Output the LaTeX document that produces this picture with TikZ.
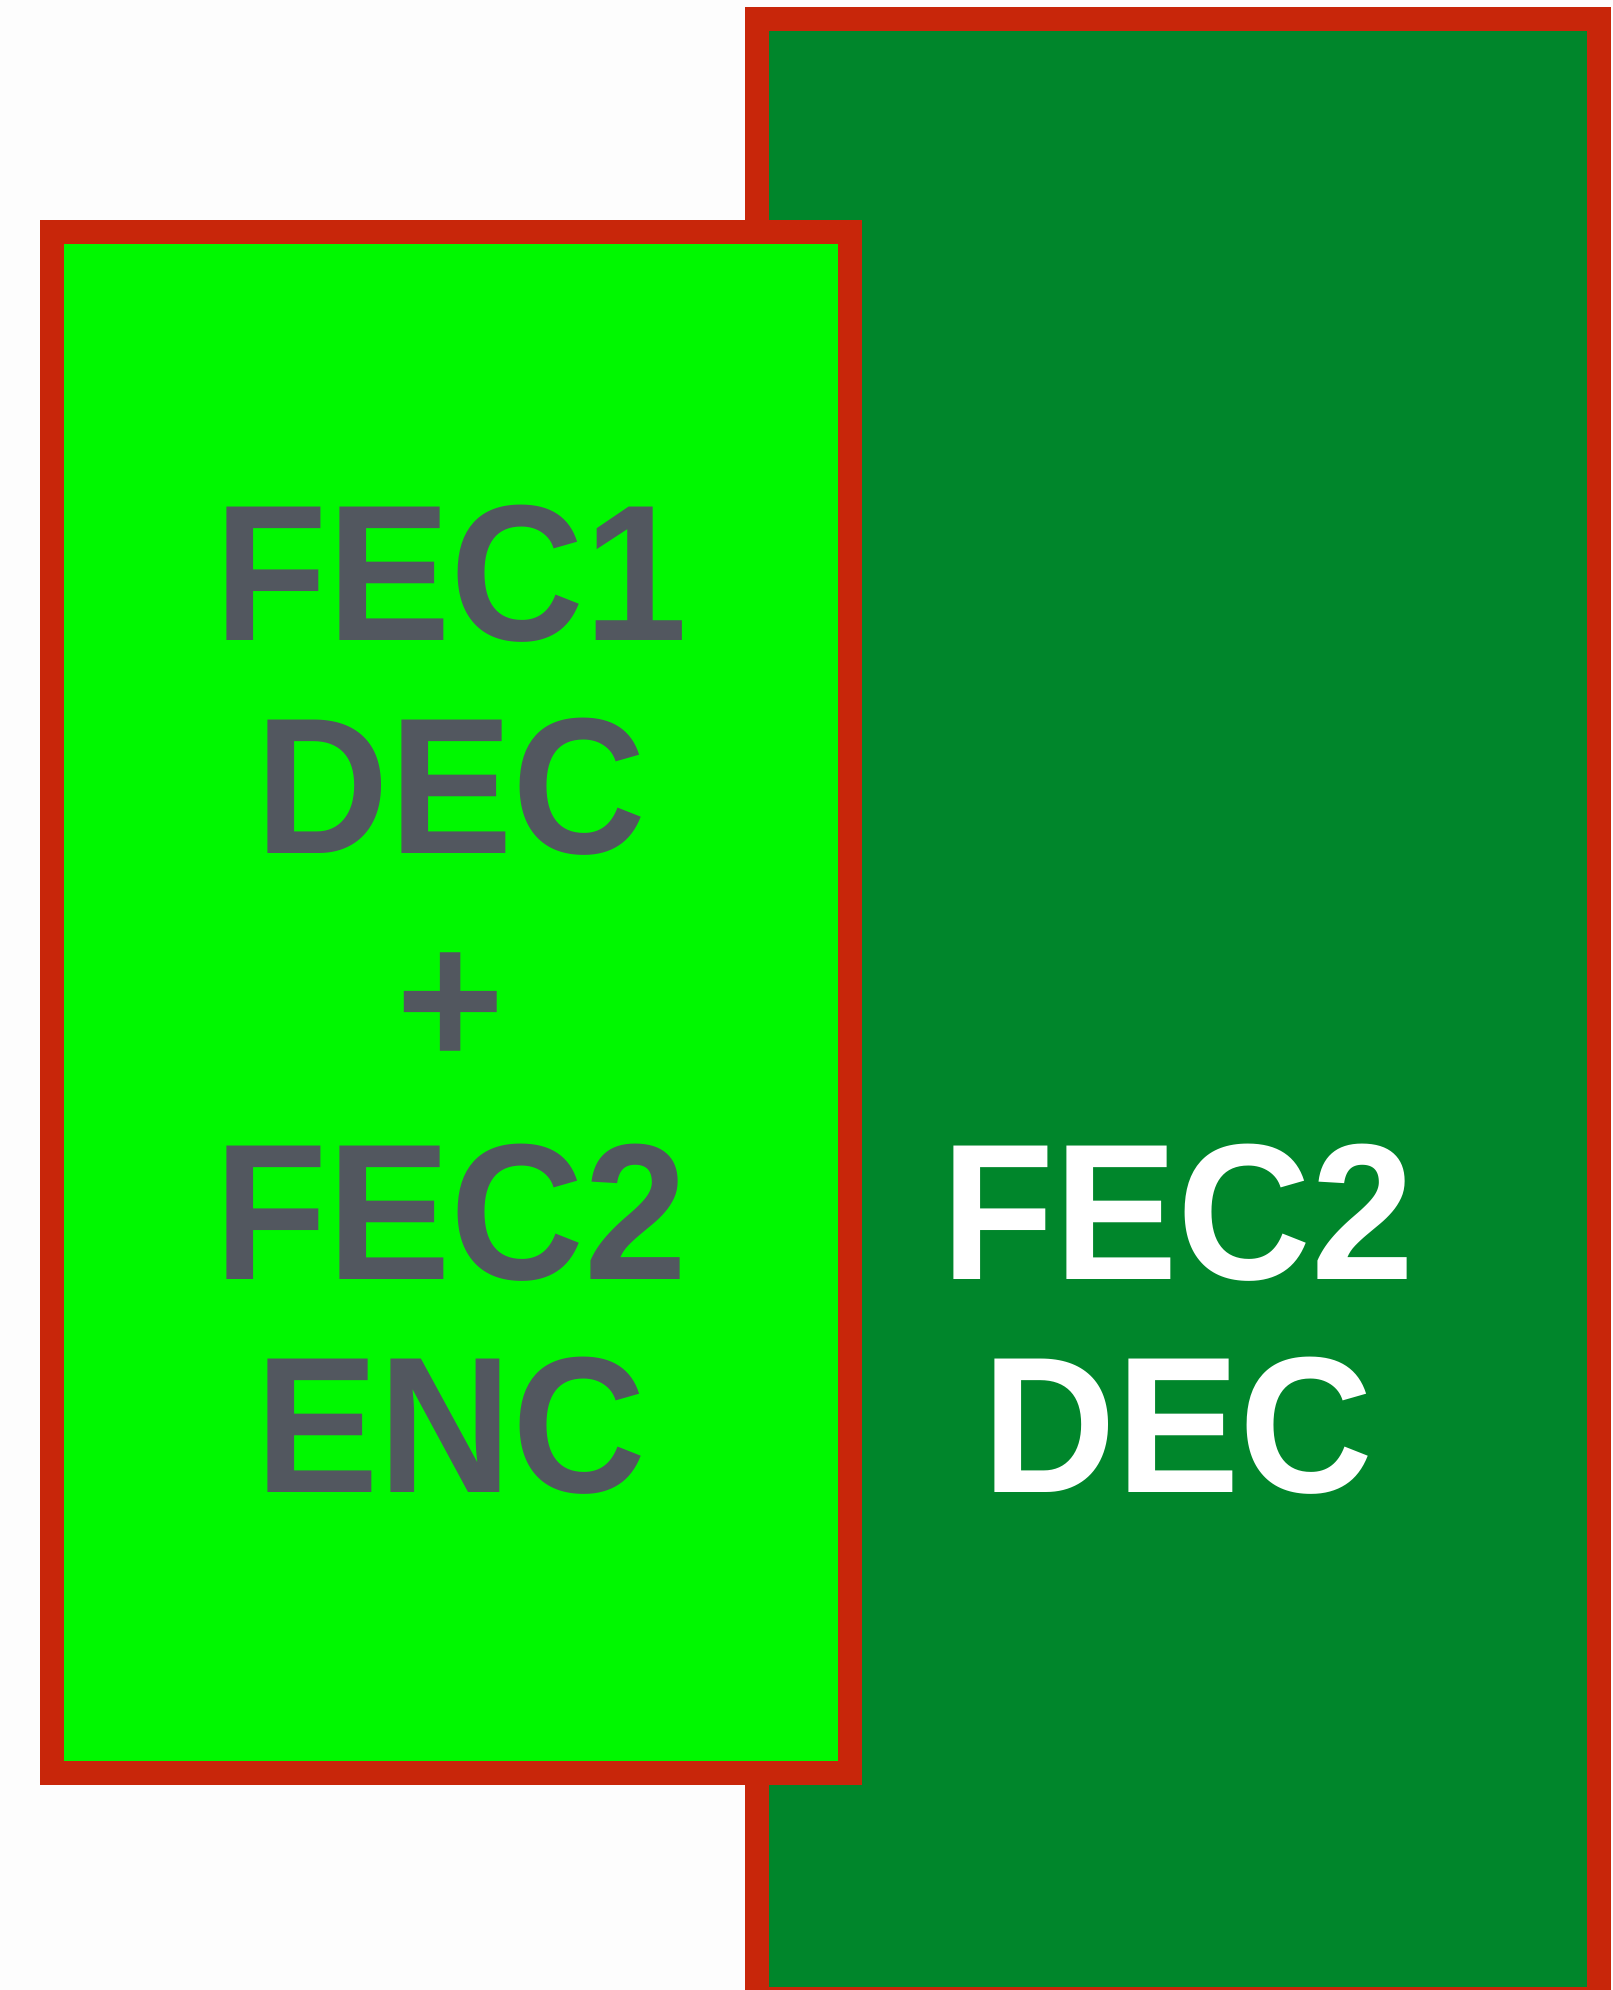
\documentclass[tikz,border=0pt]{standalone}
\usepackage{fontspec}
\setmainfont{Liberation Sans}
\definecolor{bordred}{HTML}{C8260A}
\definecolor{darkgr}{HTML}{00862B}
\definecolor{lightgr}{HTML}{00F800}
\definecolor{txtgrey}{HTML}{52575F}
\definecolor{bgwhite}{HTML}{FDFDFD}
\newcommand{\sqz}[1]{\scalebox{0.955}[1]{#1}}
\begin{document}
\begin{tikzpicture}[x=1pt,y=-1pt,
  boxline/.style={draw=bordred,line width=24pt},
  label/.style={anchor=base,inner sep=0pt,font=\fontsize{194}{213}\selectfont\bfseries}]
\useasboundingbox (0,0) rectangle (1613,1990);
\clip (0,0) rectangle (1613,1990);
\fill[bgwhite] (0,0) rectangle (1613,1990);
\draw[boxline,fill=darkgr] (757,19) rectangle (1599,1999);
\draw[boxline,fill=lightgr] (52,232) rectangle (850,1773);
\node[label,text=txtgrey] (l1) at (451,640) {\sqz{FEC1}};
\node[label,text=txtgrey] (l2) at (451,853) {\sqz{DEC}};
\node[label,text=txtgrey] (l3) at (451,1066) {\sqz{+}};
\node[label,text=txtgrey] (l4) at (451,1279) {\sqz{FEC2}};
\node[label,text=txtgrey] (l5) at (451,1492) {\sqz{ENC}};
\node[label,text=white] (r1) at (1178,1279) {\sqz{FEC2}};
\node[label,text=white] (r2) at (1178,1492) {\sqz{DEC}};
\end{tikzpicture}
\end{document}
